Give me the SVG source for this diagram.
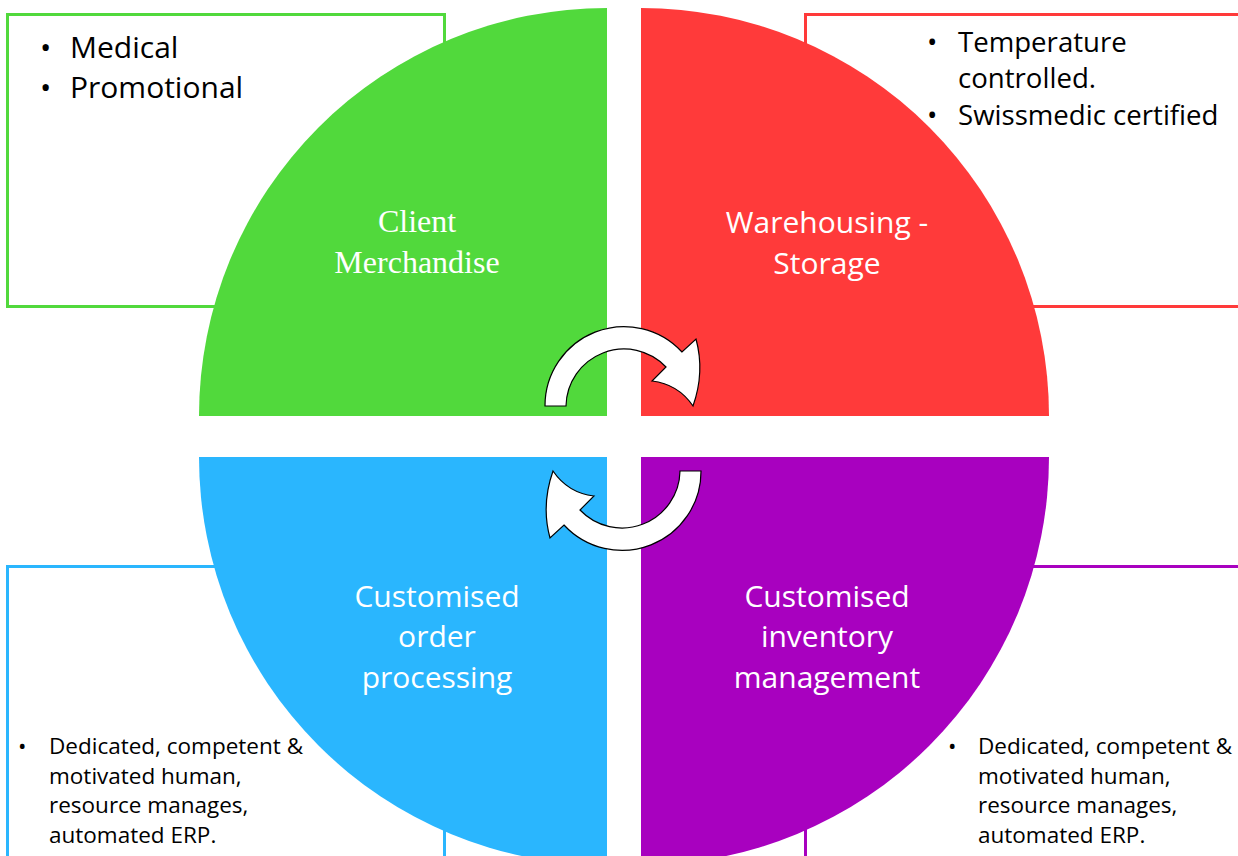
<svg xmlns="http://www.w3.org/2000/svg" width="1238" height="856" viewBox="0 0 1238 856">
<style>
.box{fill:#fff;stroke-width:3}
.sans{font-family:"Open Sans","Noto Sans","Liberation Sans",sans-serif}
.lbl{fill:#fff;font-size:30px;text-anchor:middle}
.note{fill:#000}
.arrow{fill:#fff;stroke:#000;stroke-width:1.2;stroke-linejoin:miter}
</style>
<rect width="1238" height="856" fill="#fff"/>
<g id="boxes">
<rect id="box-green" class="box" x="7.5" y="14.5" width="437" height="292" stroke="#51d93c"/>
<rect id="box-red" class="box" x="805.5" y="14.5" width="450" height="292" stroke="#ff3a3a"/>
<rect id="box-blue" class="box" x="7.5" y="566.5" width="437" height="320" stroke="#2ab6fe"/>
<rect id="box-purple" class="box" x="805.5" y="566.5" width="450" height="320" stroke="#a801bf"/>
</g>
<g id="client-merchandise">
<path d="M607,416 L199,416 A408,408 0 0 1 607,8 Z" fill="#51d93c"/>
<text x="417" y="232" fill="#fff" font-family="'Liberation Serif','Times New Roman',serif" font-size="32" text-anchor="middle">Client</text>
<text x="417" y="273" fill="#fff" font-family="'Liberation Serif','Times New Roman',serif" font-size="32" text-anchor="middle">Merchandise</text>
<g class="sans note" font-size="30">
<text x="40" y="58">•</text><text x="70" y="58">Medical</text>
<text x="40" y="98">•</text><text x="70" y="98">Promotional</text>
</g>
</g>
<g id="warehousing-storage">
<path d="M641,416 L641,8 A408,408 0 0 1 1049,416 Z" fill="#ff3a3a"/>
<text class="sans lbl" x="827" y="233">Warehousing -</text>
<text class="sans lbl" x="827" y="274">Storage</text>
<g class="sans note" font-size="27.6">
<text x="927" y="52">•</text><text x="958" y="52">Temperature</text>
<text x="958" y="88">controlled.</text>
<text x="927" y="125">•</text><text x="958" y="125">Swissmedic certified</text>
</g>
</g>
<g id="order-processing">
<path d="M607,457 L199,457 A408,408 0 0 0 607,865 Z" fill="#2ab6fe"/>
<text class="sans lbl" x="437" y="607">Customised</text>
<text class="sans lbl" x="437" y="647">order</text>
<text class="sans lbl" x="437" y="688">processing</text>
<g class="sans note" font-size="22.5">
<text x="18" y="754">•</text><text x="49" y="754">Dedicated, competent &amp;</text>
<text x="49" y="784">motivated human,</text>
<text x="49" y="813">resource manages,</text>
<text x="49" y="843">automated ERP.</text>
</g>
</g>
<g id="inventory-management">
<path d="M641,457 L1049,457 A408,408 0 0 1 641,865 Z" fill="#a801bf"/>
<text class="sans lbl" x="827" y="607">Customised</text>
<text class="sans lbl" x="827" y="647">inventory</text>
<text class="sans lbl" x="827" y="688">management</text>
<g class="sans note" font-size="22.5">
<text x="948" y="754">•</text><text x="978" y="754">Dedicated, competent &amp;</text>
<text x="978" y="784">motivated human,</text>
<text x="978" y="813">resource manages,</text>
<text x="978" y="843">automated ERP.</text>
</g>
</g>
<g id="connectors">
<path id="arrow-top" class="arrow" d="M545,406 A79,79 0 0 1 682,352 L696,339 Q705,372 693,406 Q678,384 652,381 L666,367 A58,58 0 0 0 566,406 Z"/>
<path id="arrow-bottom" class="arrow" d="M545,406 A79,79 0 0 1 682,352 L696,339 Q705,372 693,406 Q678,384 652,381 L666,367 A58,58 0 0 0 566,406 Z" transform="rotate(180 623 438.5)"/>
</g>
</svg>
